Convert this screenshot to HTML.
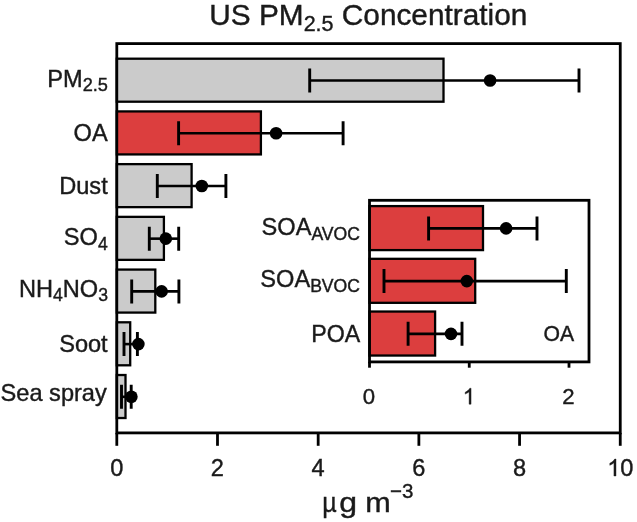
<!DOCTYPE html>
<html><head><meta charset="utf-8"><title>US PM2.5 Concentration</title>
<style>html,body{margin:0;padding:0;background:#fff;}body{width:637px;height:522px;overflow:hidden;font-family:"Liberation Sans",sans-serif;}svg{display:block;filter:blur(0.35px)}</style>
</head><body>
<svg width="637" height="522" viewBox="0 0 637 522">
<rect width="637" height="522" fill="#fff"/>
<g font-family="'Liberation Sans', sans-serif" fill="#1a1a1a" stroke="#1a1a1a" stroke-width="0.4">
<rect x="116.80" y="58.70" width="326.70" height="43.00" fill="#cbcbcb" stroke="#000" stroke-width="2.3"/>
<rect x="116.80" y="111.42" width="144.10" height="43.00" fill="#dc3e3e" stroke="#000" stroke-width="2.3"/>
<rect x="116.80" y="164.14" width="74.80" height="43.00" fill="#cbcbcb" stroke="#000" stroke-width="2.3"/>
<rect x="116.80" y="216.86" width="47.10" height="43.00" fill="#cbcbcb" stroke="#000" stroke-width="2.3"/>
<rect x="116.80" y="269.58" width="38.50" height="43.00" fill="#cbcbcb" stroke="#000" stroke-width="2.3"/>
<rect x="116.80" y="322.30" width="13.40" height="43.00" fill="#cbcbcb" stroke="#000" stroke-width="2.3"/>
<rect x="116.80" y="375.02" width="8.70" height="43.00" fill="#cbcbcb" stroke="#000" stroke-width="2.3"/>
<path d="M309.70 80.50H579.00" stroke="#000" stroke-width="2.6" fill="none"/>
<path d="M309.70 68.50v24.0M579.00 68.50v24.0" stroke="#000" stroke-width="2.9" fill="none"/>
<circle cx="490.10" cy="80.50" r="6.3" fill="#000" stroke="none"/>
<path d="M178.60 133.22H343.10" stroke="#000" stroke-width="2.6" fill="none"/>
<path d="M178.60 121.22v24.0M343.10 121.22v24.0" stroke="#000" stroke-width="2.9" fill="none"/>
<circle cx="276.10" cy="133.22" r="6.3" fill="#000" stroke="none"/>
<path d="M157.30 185.94H225.90" stroke="#000" stroke-width="2.6" fill="none"/>
<path d="M157.30 173.94v24.0M225.90 173.94v24.0" stroke="#000" stroke-width="2.9" fill="none"/>
<circle cx="201.80" cy="185.94" r="6.3" fill="#000" stroke="none"/>
<path d="M149.30 238.66H178.70" stroke="#000" stroke-width="2.6" fill="none"/>
<path d="M149.30 226.66v24.0M178.70 226.66v24.0" stroke="#000" stroke-width="2.9" fill="none"/>
<circle cx="165.80" cy="238.66" r="6.3" fill="#000" stroke="none"/>
<path d="M131.70 291.38H178.90" stroke="#000" stroke-width="2.6" fill="none"/>
<path d="M131.70 279.38v24.0M178.90 279.38v24.0" stroke="#000" stroke-width="2.9" fill="none"/>
<circle cx="161.60" cy="291.38" r="6.3" fill="#000" stroke="none"/>
<path d="M124.00 344.10H137.40" stroke="#000" stroke-width="2.6" fill="none"/>
<path d="M124.00 332.10v24.0M137.40 332.10v24.0" stroke="#000" stroke-width="2.9" fill="none"/>
<circle cx="138.40" cy="344.10" r="6.3" fill="#000" stroke="none"/>
<path d="M121.50 396.82H131.20" stroke="#000" stroke-width="2.6" fill="none"/>
<path d="M121.50 384.82v24.0M131.20 384.82v24.0" stroke="#000" stroke-width="2.9" fill="none"/>
<circle cx="131.40" cy="396.82" r="6.3" fill="#000" stroke="none"/>
<rect x="116.80" y="43.60" width="503.45" height="389.30" fill="none" stroke="#000" stroke-width="2.8"/>
<path d="M116.80 432.90V445.8" stroke="#000" stroke-width="2.8"/>
<text x="116.70" y="476.0" font-size="23.6" text-anchor="middle">0</text>
<path d="M217.49 432.90V445.8" stroke="#000" stroke-width="2.8"/>
<text x="217.39" y="476.0" font-size="23.6" text-anchor="middle">2</text>
<path d="M318.18 432.90V445.8" stroke="#000" stroke-width="2.8"/>
<text x="318.08" y="476.0" font-size="23.6" text-anchor="middle">4</text>
<path d="M418.87 432.90V445.8" stroke="#000" stroke-width="2.8"/>
<text x="418.77" y="476.0" font-size="23.6" text-anchor="middle">6</text>
<path d="M519.56 432.90V445.8" stroke="#000" stroke-width="2.8"/>
<text x="519.46" y="476.0" font-size="23.6" text-anchor="middle">8</text>
<path d="M620.25 432.90V445.8" stroke="#000" stroke-width="2.8"/>
<path transform="translate(607.22 476.00) scale(0.01152 -0.01152)" d="M763 0H583V1147Q518 1085 412.5 1023Q307 961 223 930V1104Q374 1175 487 1276Q600 1377 647 1472H763Z" stroke-width="34.7"/>
<text x="620.35" y="476.0" font-size="23.6">0</text>
<rect x="369.50" y="200.30" width="219.50" height="161.60" fill="#fff" stroke="none"/>
<rect x="369.50" y="206.10" width="113.50" height="44.00" fill="#dc3e3e" stroke="#000" stroke-width="2.3"/>
<rect x="369.50" y="258.82" width="105.70" height="44.00" fill="#dc3e3e" stroke="#000" stroke-width="2.3"/>
<rect x="369.50" y="311.54" width="65.60" height="44.00" fill="#dc3e3e" stroke="#000" stroke-width="2.3"/>
<path d="M428.60 228.40H537.00" stroke="#000" stroke-width="2.6" fill="none"/>
<path d="M428.60 216.40v24.0M537.00 216.40v24.0" stroke="#000" stroke-width="2.9" fill="none"/>
<circle cx="506.10" cy="228.40" r="6.3" fill="#000" stroke="none"/>
<path d="M384.00 281.12H566.30" stroke="#000" stroke-width="2.6" fill="none"/>
<path d="M384.00 269.12v24.0M566.30 269.12v24.0" stroke="#000" stroke-width="2.9" fill="none"/>
<circle cx="466.80" cy="281.12" r="6.3" fill="#000" stroke="none"/>
<path d="M408.10 333.84H462.00" stroke="#000" stroke-width="2.6" fill="none"/>
<path d="M408.10 321.84v24.0M462.00 321.84v24.0" stroke="#000" stroke-width="2.9" fill="none"/>
<circle cx="451.00" cy="333.84" r="6.3" fill="#000" stroke="none"/>
<rect x="369.50" y="200.30" width="219.50" height="161.60" fill="none" stroke="#000" stroke-width="2.8"/>
<path d="M369.50 361.90V367.7" stroke="#000" stroke-width="2.8"/>
<text x="369.00" y="404.2" font-size="22.2" text-anchor="middle">0</text>
<path d="M469.25 361.90V367.7" stroke="#000" stroke-width="2.8"/>
<path transform="translate(462.78 404.20) scale(0.01084 -0.01084)" d="M763 0H583V1147Q518 1085 412.5 1023Q307 961 223 930V1104Q374 1175 487 1276Q600 1377 647 1472H763Z" stroke-width="36.9"/>
<path d="M569.00 361.90V367.7" stroke="#000" stroke-width="2.8"/>
<text x="568.50" y="404.2" font-size="22.2" text-anchor="middle">2</text>
<text x="574.2" y="341.4" font-size="21.2" text-anchor="end">OA</text>
<text x="360.0" y="234.8" font-size="23.6" text-anchor="end">SOA<tspan font-size="17.6" dy="4.7">AVOC</tspan></text>
<text x="360.0" y="287.1" font-size="23.6" text-anchor="end">SOA<tspan font-size="17.6" dy="4.7">BVOC</tspan></text>
<text x="360.3" y="342.1" font-size="23.2" text-anchor="end">POA</text>
<text x="108.0" y="86.5" font-size="23.6" text-anchor="end">PM<tspan font-size="18.200000000000003" dy="4.3">2.5</tspan></text>
<text x="107.7" y="141.4" font-size="23.6" text-anchor="end">OA</text>
<text x="107.7" y="193.5" font-size="23.6" text-anchor="end">Dust</text>
<text x="107.7" y="245.2" font-size="23.6" text-anchor="end">SO<tspan font-size="17.6" dy="4.6">4</tspan></text>
<text x="108.0" y="296.6" font-size="23.6" text-anchor="end">NH<tspan font-size="17.6" dy="4.6">4</tspan><tspan dy="-4.6" font-size="23.6">NO</tspan><tspan font-size="17.6" dy="4.6">3</tspan></text>
<text x="107.7" y="351.6" font-size="23.6" text-anchor="end">Soot</text>
<text x="106.8" y="401.0" font-size="23.6" text-anchor="end">Sea spray</text>
<text x="368.3" y="24.7" font-size="29.8" text-anchor="middle">US PM<tspan font-size="21.5" dy="6.2">2.5</tspan><tspan dy="-6.2" font-size="29.8"> Concentration</tspan></text>
<text transform="translate(322.3 512.0) scale(0.9 1)" font-size="27.8">µ</text>
<text transform="translate(339.2 512.0) scale(1.15 1)" font-size="27.8">g</text>
<text transform="translate(365.3 512.0) scale(1.1 1)" font-size="27.8">m</text>
<text transform="translate(390.1 498.0) scale(1.0 1)" font-size="20.5">−3</text>
</g></svg>
</body></html>
